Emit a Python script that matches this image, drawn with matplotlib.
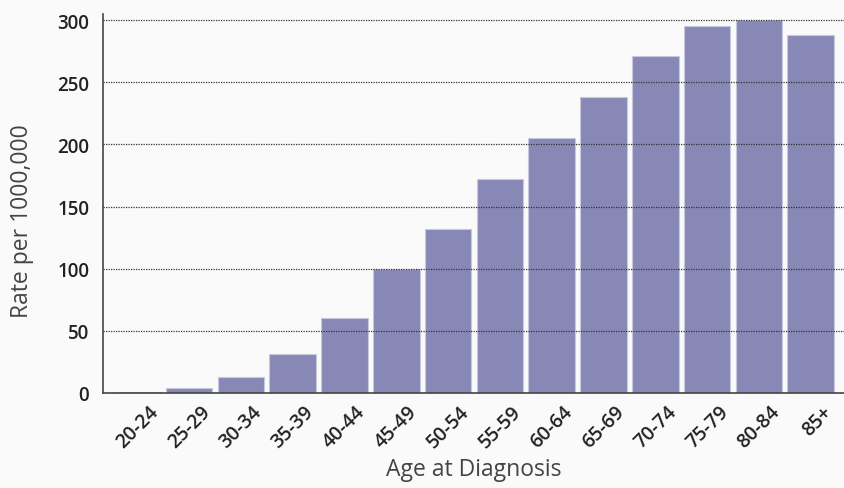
import matplotlib
matplotlib.use("Agg")
import matplotlib.pyplot as plt
from matplotlib.transforms import ScaledTranslation

categories = ["20-24", "25-29", "30-34", "35-39", "40-44", "45-49", "50-54",
              "55-59", "60-64", "65-69", "70-74", "75-79", "80-84", "85+"]
rates = [1, 4, 13, 31, 60, 100, 132, 172, 205, 238, 271, 295, 300, 288]
yticks = [0, 50, 100, 150, 200, 250, 300]

plt.rcParams['font.family'] = ['Open Sans', 'DejaVu Sans']

fig = plt.figure(figsize=(8.45, 4.89), dpi=100, facecolor="#fafafa")
ax = fig.add_axes([103/845, 95/489, 742/845, 379/489])
ax.set_facecolor("#fafafa")

x = range(len(categories))
ax.bar(x, rates, width=0.9, color="#8888b6", edgecolor="#c8c8dc", linewidth=0.8, zorder=2)

ax.set_xlim(-0.66, 13.66)
ax.set_ylim(0, 305)
ax.set_yticks(yticks)
ax.set_yticklabels([str(t) for t in yticks], fontsize=13.5, fontweight="semibold", color="#222222")
ax.set_xticks(list(x))
ax.set_xticklabels(categories, rotation=45, ha="right", rotation_mode="anchor",
                   fontsize=14, fontweight="semibold", color="#222222")
ax.tick_params(axis="y", length=0, pad=10)
ax.tick_params(axis="x", length=0, pad=6)
offset = ScaledTranslation(11/100, 0, fig.dpi_scale_trans)
for lbl in ax.get_xticklabels():
    lbl.set_transform(lbl.get_transform() + offset)

for t in yticks[1:]:
    ax.axhline(t, color="#333333", linestyle=(0, (1, 1)), linewidth=0.9, zorder=3)

for s in ["top", "right"]:
    ax.spines[s].set_visible(False)
ax.spines["left"].set_color("#444444")
ax.spines["bottom"].set_color("#444444")
ax.spines["left"].set_linewidth(1.2)
ax.spines["bottom"].set_linewidth(1.2)
ax.spines["bottom"].set_zorder(4)

ax.set_ylabel("Rate per 1000,000", fontsize=16.5, color="#444444")
ax.yaxis.set_label_coords(-0.093, 0.456)
ax.set_xlabel("Age at Diagnosis", fontsize=16.5, color="#444444", labelpad=4)

fig.savefig("out.png", dpi=100, facecolor=fig.get_facecolor())
